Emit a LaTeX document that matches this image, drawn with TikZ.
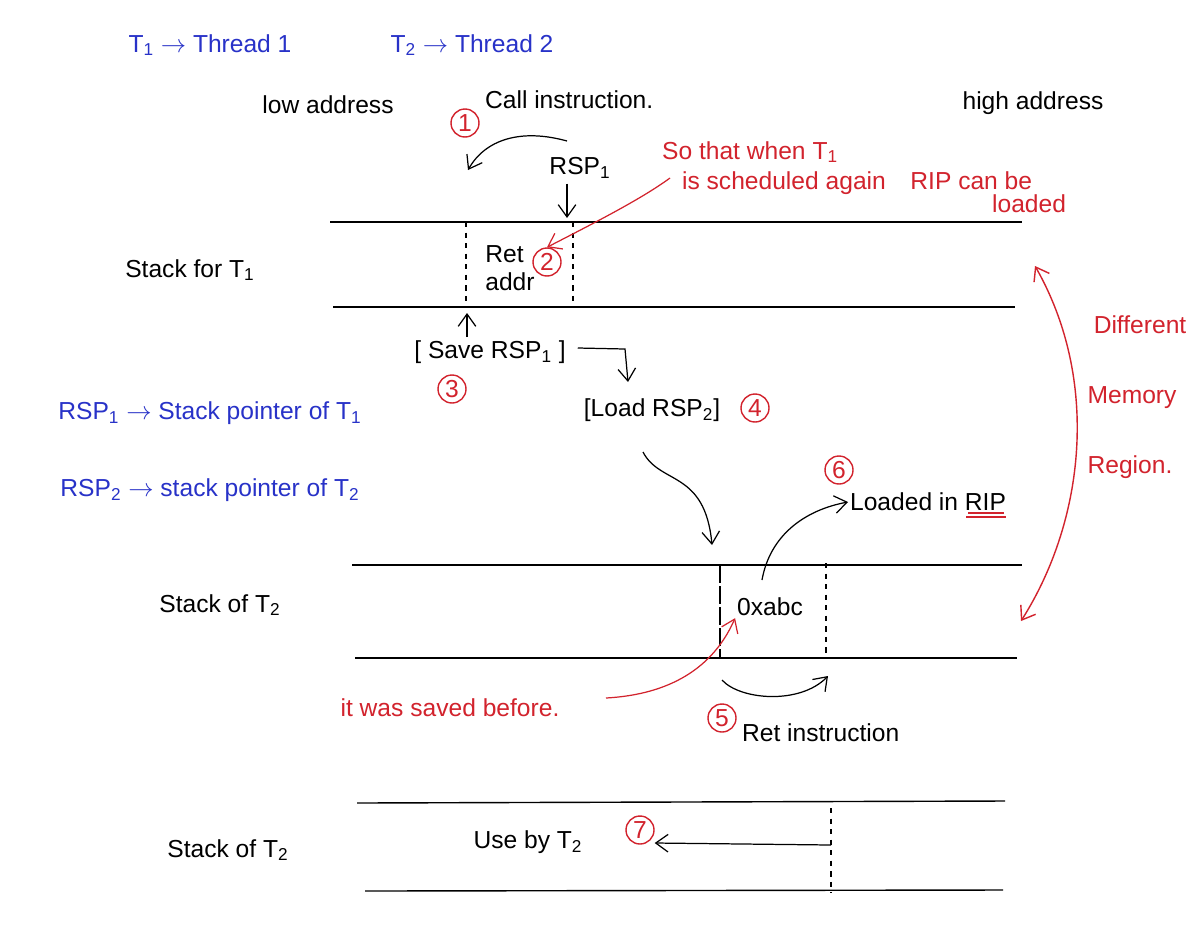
\documentclass[tikz,border=0pt]{standalone}
\usepackage{fontspec}
\setmainfont{Liberation Sans}
\usetikzlibrary{arrows.meta}
\definecolor{inkblue}{RGB}{40,50,200}
\definecolor{inkred}{RGB}{210,35,45}
\newcommand{\Tsub}[1]{T\textsubscript{#1}}
\begin{document}
\begin{tikzpicture}[x=0.02cm,y=-0.02cm,
  txt/.style={font=\fontsize{14}{16}\selectfont,inner sep=1pt},
  btxt/.style={txt,text=inkblue},
  rtxt/.style={txt,text=inkred,align=left},
  num/.style={circle,draw=inkred,text=inkred,thick,inner sep=0pt,minimum size=0.56cm,font=\fontsize{14}{15}\selectfont},
  stk/.style={line width=0.8pt},
  sep/.style={dashed,line width=0.7pt},
  arr/.style={-{Straight Barb[length=7pt,width=10pt]},line width=0.7pt},
  rarr/.style={arr,draw=inkred}]
\useasboundingbox (0,0) rectangle (1202,940);
\fill[white] (0,0) rectangle (1202,940);

% legend
\node[btxt] (l1) at (210,45) {\Tsub{1} $\rightarrow$ Thread 1};
\node[btxt] (l2) at (472,45) {\Tsub{2} $\rightarrow$ Thread 2};
\node[btxt] (l3) at (210,413) {RSP\textsubscript{1} $\rightarrow$ Stack pointer of \Tsub{1}};
\node[btxt] (l4) at (210,490) {RSP\textsubscript{2} $\rightarrow$ stack pointer of \Tsub{2}};

\node[txt] (low) at (328,105) {low address};
\node[txt] (high) at (1033,103) {high address};

% ---- stack T1
\draw[stk] (330,222) -- (1022,222);
\draw[stk] (333,307) -- (1015,307);
\coordinate (s1a) at (466,222); \coordinate (s1b) at (466,307);
\coordinate (s1c) at (573,222); \coordinate (s1d) at (573,307);
\draw[sep] (s1a) -- (s1b);
\draw[sep] (s1c) -- (s1d);
\node[txt,align=left] (ret) at (510,268) {Ret\\addr};
\node[num] (n2) at (547,262) {2};
\node[txt] (st1) at (190,270) {Stack for \Tsub{1}};

\node[num] (n1) at (465,123) {1};
\node[txt,anchor=west] (call) at (483,100) {Call instruction.};
\coordinate (c1s) at (567,141);
\coordinate (c1e) at (468,170);
\draw[arr] (c1s) .. controls (520,128) and (485,140) .. (c1e);
\node[txt] (rsp1) at (580,168) {RSP\textsubscript{1}};
\coordinate (rsp1t) at (567,218);
\draw[arr] (rsp1.south -| rsp1t) ++(0,3) -- (rsp1t);

\node[rtxt,anchor=west] (so1) at (660,152) {So that when \Tsub{1}};
\node[rtxt,anchor=west] (so2) at (680,183) {is scheduled again\quad RIP can be};
\node[rtxt,anchor=west] (so3) at (990,204) {loaded};
\draw[rarr] (so2.west) ++(-10,-5) .. controls (640,200) and (590,225) .. (n2.north);

% ---- save / load
\node[txt] (save) at (490,352) {[ Save RSP\textsubscript{1} ]};
\coordinate (savt) at (467,313);
\draw[arr] (467,337) -- (savt);
\node[num] (n3) at (452,389) {3};
\node[txt] (load) at (652,410) {[Load RSP\textsubscript{2}]};
\node[num] (n4) at (755,408) {4};
\coordinate (l4e) at (628,382);
\draw[arr] (save.east) ++(10,-4) -- (625,349) -- (l4e);

% ---- stack T2
\draw[stk] (352,565) -- (1022,565);
\draw[stk] (355,658) -- (1017,658);
\coordinate (s2a) at (720,565); \coordinate (s2b) at (720,658);
\coordinate (s2c) at (826,563); \coordinate (s2d) at (826,655);
\draw[sep,dash pattern=on 10pt off 2pt] (s2a) -- (s2b);
\draw[sep] (s2c) -- (s2d);
\node[txt] (abc) at (770,607) {0xabc};
\node[txt] (st2) at (220,605) {Stack of \Tsub{2}};

\coordinate (l2e) at (712,545);
\draw[arr] (643,452) .. controls (660,485) and (705,470) .. (l2e);

\node[num] (n6) at (839,470) {6};
\node[txt,anchor=west] (rip) at (848,502) {Loaded in RIP};
\draw[inkred,line width=0.9pt] (966,517) -- (1006,517);
\draw[inkred,line width=0.9pt] (968,513) -- (1004,513);
\draw[arr] (762,580) .. controls (770,535) and (805,510) .. (rip.west);

\node[rtxt] (saved) at (450,708) {it was saved before.};
\draw[rarr] (606,698) .. controls (660,695) and (710,675) .. (abc.south west);

\coordinate (r5s) at (722,680);
\coordinate (r5e) at (828,676);
\draw[arr] (r5s) .. controls (740,700) and (800,705) .. (r5e);
\node[num] (n5) at (722,718) {5};
\node[txt,anchor=west] (reti) at (740,733) {Ret instruction};

% ---- different memory region
\coordinate (dm1) at (1035,266);
\coordinate (dm2) at (1021,621);
\draw[inkred,line width=0.8pt,{Straight Barb[length=7pt,width=10pt]}-{Straight Barb[length=7pt,width=10pt]}] (dm1) .. controls (1100,380) and (1085,520) .. (dm2);
\node[rtxt] (diff) at (1140,325) {Different};
\node[rtxt] (mem) at (1132,398) {Memory};
\node[rtxt] (reg) at (1130,467) {Region.};

% ---- stack T2 (later)
\draw[stk] (357,803) -- (1005,801);
\draw[stk] (365,891) -- (1003,890);
\coordinate (s3a) at (831,808); \coordinate (s3b) at (831,893);
\draw[sep] (s3a) -- (s3b);
\node[txt] (st3) at (228,850) {Stack of \Tsub{2}};
\node[txt] (use) at (528,842) {Use by \Tsub{2}};
\node[num] (n7) at (640,830) {7};
\coordinate (u7) at (831,845);
\draw[arr] (u7) -- (n7.east |- 0,843);
\end{tikzpicture}
\end{document}
